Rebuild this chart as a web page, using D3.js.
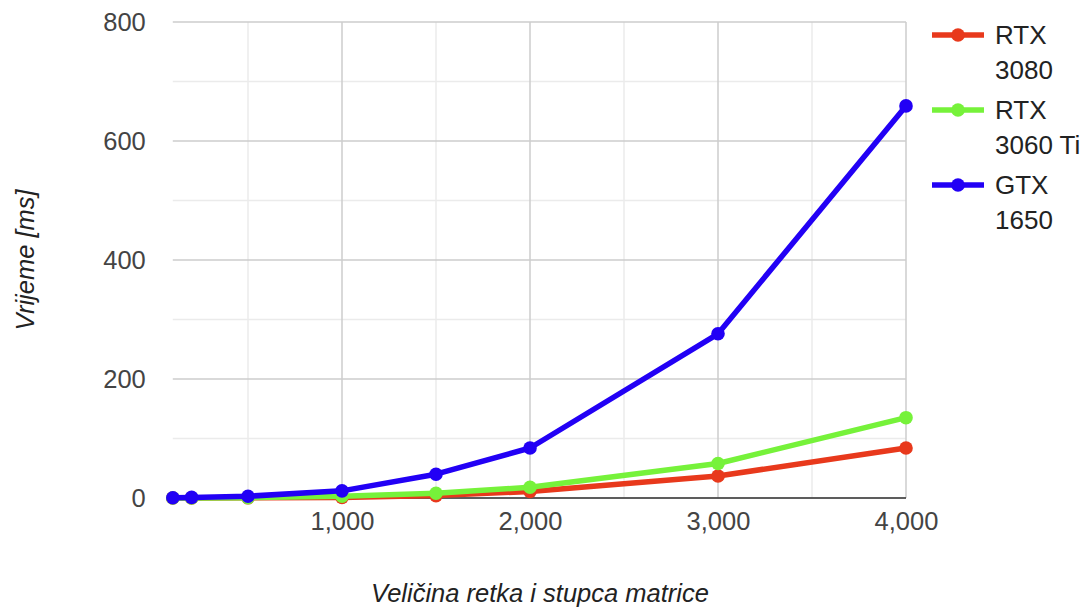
<!DOCTYPE html>
<html><head><meta charset="utf-8">
<script src="https://cdn.jsdelivr.net/npm/d3@7"></script>
<style>body{margin:0;background:#fff;font-family:"Liberation Sans",Arial,sans-serif;}</style>
</head><body><svg id="c" width="1085" height="610"></svg>
<script>
const sizes = [100, 200, 500, 1000, 1500, 2000, 3000, 4000];
const rtx3080 = [0, 0, 0.3, 1, 4, 11, 37, 84];
const rtx3060ti = [0, 0, 0.5, 3, 8, 18, 58, 135];
const gtx1650 = [0.5, 1, 3, 12, 40, 84, 276, 659];
const seriesNames = [["RTX", "3080"], ["RTX", "3060 Ti"], ["GTX", "1650"]];
const seriesColors = ["#e8391c", "#76f23a", "#2200f5"];
const yTicks = [0, 200, 400, 600, 800];
const xTicks = [1000, 2000, 3000, 4000];

const svg = d3.select("#c");
const x = d3.scaleLinear().domain([100, 4000]).range([172.8, 906]);
const y = d3.scaleLinear().domain([0, 800]).range([498, 22]);
const FONT = "Liberation Sans, Arial, sans-serif";

const g = svg.append("g");
d3.range(100, 800, 200).forEach(v => {
  g.append("line").attr("x1", x(100)).attr("x2", x(4000)).attr("y1", y(v)).attr("y2", y(v))
    .attr("stroke", "#ebebeb").attr("stroke-width", 1.5);
});
[500, 1500, 2500, 3500].forEach(v => {
  g.append("line").attr("x1", x(v)).attr("x2", x(v)).attr("y1", y(800)).attr("y2", y(0))
    .attr("stroke", "#ebebeb").attr("stroke-width", 1.5);
});
yTicks.forEach(v => {
  g.append("line").attr("x1", x(100)).attr("x2", x(4000)).attr("y1", y(v)).attr("y2", y(v))
    .attr("stroke", "#cccccc").attr("stroke-width", 1.5);
});
xTicks.forEach(v => {
  g.append("line").attr("x1", x(v)).attr("x2", x(v)).attr("y1", y(800)).attr("y2", y(0))
    .attr("stroke", "#cccccc").attr("stroke-width", 1.5);
});
g.append("line").attr("x1", x(100)).attr("x2", x(4000)).attr("y1", y(0)).attr("y2", y(0))
  .attr("stroke", "#333").attr("stroke-width", 1.5);

const yAxis = d3.axisLeft(y).tickValues(yTicks).tickSize(0).tickPadding(27).tickFormat(d3.format("d"));
const ya = svg.append("g").attr("transform", `translate(${x(100)},0)`).call(yAxis);
ya.select(".domain").remove();
ya.selectAll("text").attr("font-size", 25.5).attr("fill", "#444").attr("font-family", FONT).attr("dy", "0.35em");

const xAxis = d3.axisBottom(x).tickValues(xTicks).tickSize(0).tickPadding(14).tickFormat(d3.format(","));
const xa = svg.append("g").attr("transform", `translate(0,${y(0)})`).call(xAxis);
xa.select(".domain").remove();
xa.selectAll("text").attr("font-size", 25.5).attr("fill", "#444").attr("font-family", FONT);

const allSeries = [rtx3080, rtx3060ti, gtx1650];
const line = d3.line().x((d, i) => x(sizes[i])).y(d => y(d));
allSeries.forEach((s, k) => {
  svg.append("path").datum(s).attr("d", line).attr("fill", "none")
    .attr("stroke", seriesColors[k]).attr("stroke-width", 5.5).attr("stroke-linejoin", "round");
  svg.append("g").selectAll("circle").data(s).join("circle")
    .attr("cx", (d, i) => x(sizes[i])).attr("cy", d => y(d)).attr("r", 6.8).attr("fill", seriesColors[k]);
});

seriesNames.forEach((n, k) => {
  const ly = 35 + k * 75;
  svg.append("line").attr("x1", 932).attr("x2", 984).attr("y1", ly).attr("y2", ly)
    .attr("stroke", seriesColors[k]).attr("stroke-width", 5.5);
  svg.append("circle").attr("cx", 958).attr("cy", ly).attr("r", 6.8).attr("fill", seriesColors[k]);
  const t = svg.append("text").attr("x", 995).attr("y", ly + 9).attr("font-size", 26).attr("fill", "#222").attr("font-family", FONT);
  t.append("tspan").attr("x", 995).text(n[0]);
  t.append("tspan").attr("x", 995).attr("dy", 34.5).text(n[1]);
});

svg.append("text").attr("x", 540).attr("y", 602).attr("text-anchor", "middle").attr("font-family", FONT)
  .attr("font-size", 25.5).attr("font-style", "italic").attr("fill", "#222").text("Veličina retka i stupca matrice");
svg.append("text").attr("transform", "translate(34,260) rotate(-90)").attr("text-anchor", "middle").attr("font-family", FONT)
  .attr("font-size", 25.5).attr("font-style", "italic").attr("fill", "#222").text("Vrijeme [ms]");
</script></body></html>
